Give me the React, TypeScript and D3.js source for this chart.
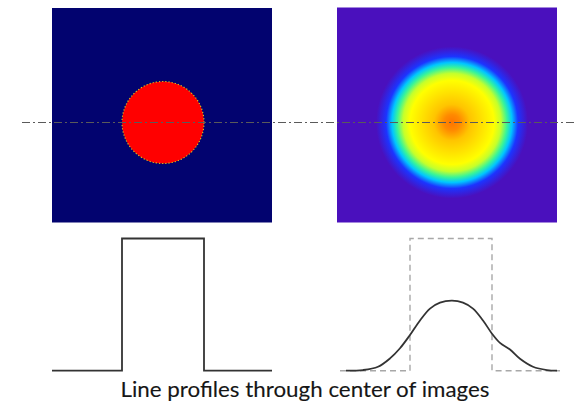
import React from 'react';
import * as d3 from 'd3';

// top-hat profile (left image), position in px across the image, value 0..1
const hatPos = [0, 70, 70, 152, 152, 220];
const hatVal = [0, 0, 1, 1, 0, 0];

// blurred profile (right image)
const blurPos = [6, 23, 38, 50, 60, 70, 80, 90, 100, 112, 123, 133, 143, 152, 160, 170, 180, 193, 207, 217];
const blurVal = [0, 0.005, 0.03, 0.093, 0.17, 0.27, 0.38, 0.47, 0.515, 0.53, 0.515, 0.47, 0.38, 0.28, 0.21, 0.16, 0.09, 0.03, 0.005, 0];

// colour rings of the blurred image (radius in px)
const ringRadius = [0, 8, 18, 42, 49, 55, 60, 66, 76];
const ringColor = ['#ff7400', '#ff8a00', '#ffc400', '#ffff00', '#c4ff2c', '#38f49a', '#00c6ff', '#1c34ff', '#4a10bd'];

const caption = 'Line profiles through center of images';

const W = 574, H = 403;
const lineY = 122.5;

export default function App() {
  const xLeft = d3.scaleLinear().domain([0, 220]).range([52, 272]);
  const xRight = d3.scaleLinear().domain([0, 220]).range([340, 560]);
  const y = d3.scaleLinear().domain([0, 1]).range([370.7, 238.5]);

  const hat = hatPos.map((p, i) => [p, hatVal[i]] as [number, number]);
  const blur = blurPos.map((p, i) => [p, blurVal[i]] as [number, number]);

  const hatLineL = d3.line<[number, number]>().x(d => xLeft(d[0])).y(d => y(d[1]))(hat) || '';
  const hatLineR = d3.line<[number, number]>().x(d => xRight(d[0])).y(d => y(d[1]))(hat) || '';
  const blurLine = d3.line<[number, number]>()
    .x(d => xRight(d[0])).y(d => y(d[1]))
    .curve(d3.curveCatmullRom.alpha(0.5))(blur) || '';

  // circle geometry from the top-hat edges
  const cxL = xLeft((hatPos[1] + hatPos[3]) / 2);
  const rL = (xLeft(hatPos[3]) - xLeft(hatPos[1])) / 2;
  const peakIdx = d3.maxIndex(blurVal);
  const cxR = xRight(blurPos[peakIdx]);
  const rMax = ringRadius[ringRadius.length - 1];

  return (
    <svg width={W} height={H} style={{ position: 'absolute', left: 0, top: 0, background: '#fff' }}>
      <defs>
        <radialGradient id="blurGrad" gradientUnits="userSpaceOnUse" cx={cxR} cy={lineY} r={rMax}>
          {ringRadius.map((r, i) => (
            <stop key={i} offset={r / rMax} stopColor={ringColor[i]} />
          ))}
        </radialGradient>
        <clipPath id="clipR">
          <rect x={337} y={7.5} width={220} height={215} />
        </clipPath>
      </defs>

      {/* left image: uniform disc */}
      <rect x={52} y={8} width={220} height={214.5} fill="#02036f" />
      <circle cx={cxL} cy={lineY} r={rL} fill="#ff0000" />
      <circle cx={cxL} cy={lineY} r={rL} fill="none" stroke="#d9cf1a" strokeWidth={1.1} strokeDasharray="1.2 2" />

      {/* right image: blurred disc */}
      <rect x={337} y={7.5} width={220} height={215} fill={ringColor[ringColor.length - 1]} />
      <circle cx={cxR} cy={lineY} r={rMax} fill="url(#blurGrad)" clipPath="url(#clipR)" />

      {/* profile line through the centers */}
      <line x1={22} x2={W} y1={lineY} y2={lineY} stroke="#5a5a5a" strokeWidth={1.2} strokeDasharray="8 3 2 3" />

      {/* profiles */}
      <path d={hatLineL} fill="none" stroke="#333" strokeWidth={1.8} />
      <path d={hatLineR} fill="none" stroke="#a8a8a8" strokeWidth={1.4} strokeDasharray="6 4" />
      <path d={blurLine} fill="none" stroke="#333" strokeWidth={1.8} />

      <text x={305} y={396.5} textAnchor="middle" fontFamily="Lato, 'Open Sans', sans-serif" fontSize={21.5}
        textLength={369} lengthAdjust="spacingAndGlyphs" fill="#161616" stroke="#161616" strokeWidth={0.12}>
        {caption}
      </text>
    </svg>
  );
}
